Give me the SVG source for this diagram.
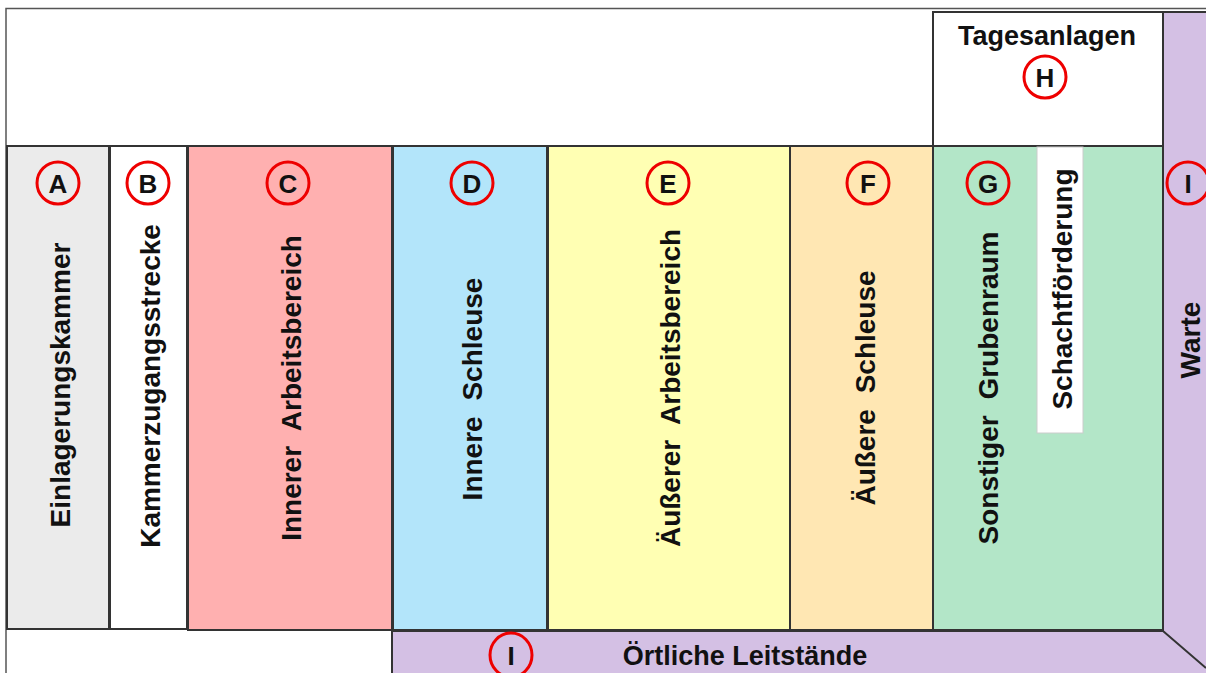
<svg xmlns="http://www.w3.org/2000/svg" width="1206" height="673" viewBox="0 0 1206 673">
<style>
.col{stroke:#333;stroke-width:2}
.ln{stroke:#333;stroke-width:2;fill:none}
.circ{fill:none;stroke:#e00;stroke-width:3}
.let{font-family:"Liberation Sans",Arial,sans-serif;font-weight:bold;font-size:26px;fill:#111;text-anchor:middle;dominant-baseline:central}
.lbl{font-family:"Liberation Sans",Arial,sans-serif;font-weight:bold;font-size:27px;fill:#111;text-anchor:middle;dominant-baseline:central}
.vl{font-family:"Liberation Sans",Arial,sans-serif;font-weight:bold;font-size:28px;fill:#111;text-anchor:middle;dominant-baseline:central;word-spacing:8px}
</style>
<rect x="0" y="0" width="1206" height="673" fill="#fff"/>
<g id="frame">
<path d="M6,673 V8.5 H1206" fill="none" stroke="#555" stroke-width="1.5"/>
</g>
<g id="I-purple">
<polygon points="392,631 1163,631 1163,12 1206,12 1206,673 392,673" fill="#d4c0e4"/>
<path class="ln" d="M392,673 V631 H1163 M1163,631 V12 H1206 M1163,631 L1206,668"/>
<text class="vl" transform="translate(1190,340) rotate(-90)">Warte</text>
<circle class="circ" cx="1188" cy="183" r="21"/>
<text class="let" x="1188" y="184">I</text>
<ellipse class="circ" cx="511" cy="655" rx="21" ry="22"/>
<text class="let" x="511" y="656">I</text>
<text class="lbl" x="745" y="656">Örtliche Leitstände</text>
</g>
<g id="H">
<rect class="col" x="933" y="12" width="230" height="134" fill="#fff"/>
<text class="lbl" x="1047" y="36">Tagesanlagen</text>
<circle class="circ" cx="1045" cy="77" r="21"/>
<text class="let" x="1045" y="78">H</text>
</g>
<g id="A">
<rect class="col" x="7" y="146" width="102" height="483" fill="#ebebeb"/>
<circle class="circ" cx="58" cy="183" r="21"/>
<text class="let" x="58" y="184">A</text>
<text class="vl" transform="translate(60,385) rotate(-90)">Einlagerungskammer</text>
</g>
<g id="B">
<rect class="col" x="110" y="146" width="77" height="483" fill="#fff"/>
<circle class="circ" cx="148" cy="183" r="21"/>
<text class="let" x="148" y="184">B</text>
<text class="vl" transform="translate(150,386) rotate(-90)">Kammerzugangsstrecke</text>
</g>
<g id="C">
<rect class="col" x="188" y="146" width="204" height="484" fill="#ffb0b0"/>
<circle class="circ" cx="288" cy="183" r="21"/>
<text class="let" x="288" y="184">C</text>
<text class="vl" transform="translate(291,388) rotate(-90)">Innerer Arbeitsbereich</text>
</g>
<g id="D">
<rect class="col" x="393" y="146" width="154" height="484" fill="#b3e5fa"/>
<circle class="circ" cx="472" cy="183" r="21"/>
<text class="let" x="472" y="184">D</text>
<text class="vl" transform="translate(472,389) rotate(-90)">Innere Schleuse</text>
</g>
<g id="E">
<rect class="col" x="548" y="146" width="242" height="484" fill="#ffffb3"/>
<circle class="circ" cx="668" cy="183" r="21"/>
<text class="let" x="668" y="184">E</text>
<text class="vl" transform="translate(670,388) rotate(-90)">Äußerer Arbeitsbereich</text>
</g>
<g id="F">
<rect class="col" x="790" y="146" width="143" height="484" fill="#ffe7b3"/>
<circle class="circ" cx="868" cy="183" r="21"/>
<text class="let" x="868" y="184">F</text>
<text class="vl" transform="translate(865,388) rotate(-90)">Äußere Schleuse</text>
</g>
<g id="G">
<rect class="col" x="933" y="146" width="230" height="484" fill="#b3e6c8"/>
<circle class="circ" cx="988" cy="183" r="21"/>
<text class="let" x="988" y="184">G</text>
<text class="vl" transform="translate(988,388) rotate(-90)">Sonstiger Grubenraum</text>
</g>
<g id="Schachtfoerderung">
<rect x="1037" y="147" width="46" height="286" fill="#fff" stroke="#ccc" stroke-width="1"/>
<text class="vl" transform="translate(1062,289) rotate(-90)">Schachtförderung</text>
</g>
</svg>
